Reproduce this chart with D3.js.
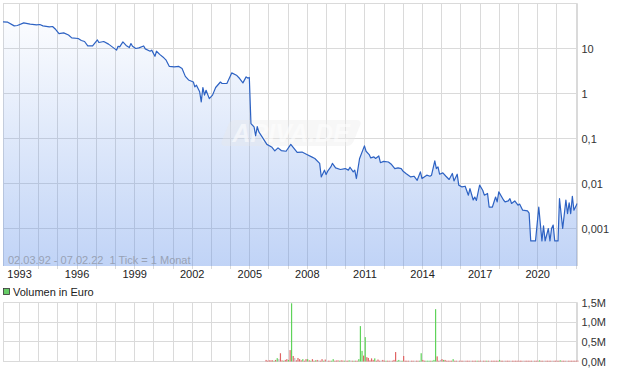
<!DOCTYPE html>
<html>
<head>
<meta charset="utf-8">
<script src="https://cdn.jsdelivr.net/npm/d3@7"></script>
<style>
  body { margin: 0; background: #fff; }
  svg { display: block; font-family: "Liberation Sans", Arial, sans-serif; }
</style>
</head>
<body>
<div id="chart"></div>
<script>
// monthly closes (EUR, log scale)
const price = [
  ["1992-03", 39], ["1992-06", 38.4], ["1992-10", 31.8], ["1992-12", 32.4],
  ["1993-04", 37.1], ["1993-08", 34.7], ["1993-12", 33.4],
  ["1994-02", 34.1], ["1994-04", 31.8], ["1994-08", 30.2], ["1994-10", 30.8], ["1994-12", 26.4],
  ["1995-02", 21.5], ["1995-05", 22.2], ["1995-08", 20.0], ["1995-10", 17.2],
  ["1996-02", 16.7], ["1996-04", 15.1], ["1996-06", 14.3], ["1996-08", 11.4], ["1996-11", 11.4],
  ["1997-02", 15.5], ["1997-03", 13.6], ["1997-06", 14.3], ["1997-09", 12.5],
  ["1998-02", 9.2], ["1998-03", 11.2], ["1998-04", 10.9], ["1998-06", 14.0], ["1998-08", 11.7],
  ["1998-10", 10.5], ["1998-11", 12.9], ["1998-12", 11.2],
  ["1999-02", 10.0], ["1999-04", 10.3], ["1999-07", 11.4], ["1999-08", 9.8], ["1999-11", 8.7], ["1999-12", 9.2],
  ["2000-02", 6.7], ["2000-03", 8.7], ["2000-05", 7.4], ["2000-07", 6.5], ["2000-09", 5.5], ["2000-11", 4.0],
  ["2001-02", 3.9], ["2001-05", 4.0], ["2001-07", 3.6], ["2001-09", 2.4], ["2001-11", 2.0],
  ["2002-02", 1.8], ["2002-03", 1.4], ["2002-04", 1.53], ["2002-06", 1.09], ["2002-07", 0.65],
  ["2002-08", 1.36], ["2002-09", 0.92], ["2002-10", 1.18], ["2002-12", 0.77],
  ["2003-02", 0.92], ["2003-04", 1.36], ["2003-07", 1.8], ["2003-08", 1.67], ["2003-11", 1.67],
  ["2004-02", 2.87], ["2004-05", 2.55], ["2004-07", 2.15], ["2004-09", 1.72], ["2004-11", 2.34], ["2004-12", 2.2],
  ["2005-01", 2.27], ["2005-02", 0.215], ["2005-04", 0.181], ["2005-05", 0.115], ["2005-06", 0.183],
  ["2005-07", 0.14], ["2005-09", 0.109], ["2005-12", 0.074],
  ["2006-03", 0.065], ["2006-05", 0.053], ["2006-07", 0.062], ["2006-09", 0.054], ["2006-12", 0.052],
  ["2007-03", 0.074], ["2007-05", 0.060], ["2007-07", 0.049], ["2007-10", 0.050],
  ["2008-01", 0.044], ["2008-04", 0.039], ["2008-06", 0.036], ["2008-09", 0.028], ["2008-10", 0.014], ["2008-12", 0.0198],
  ["2009-01", 0.0158], ["2009-02", 0.0188], ["2009-04", 0.0234], ["2009-05", 0.028], ["2009-07", 0.0222], ["2009-10", 0.0205],
  ["2010-01", 0.0215], ["2010-03", 0.0198], ["2010-04", 0.023], ["2010-06", 0.0181], ["2010-07", 0.0198],
  ["2010-08", 0.0129], ["2010-10", 0.036],
  ["2011-01", 0.0685], ["2011-02", 0.052], ["2011-04", 0.044], ["2011-05", 0.037], ["2011-07", 0.039],
  ["2011-08", 0.036], ["2011-10", 0.041], ["2011-11", 0.029],
  ["2012-01", 0.031], ["2012-04", 0.030], ["2012-06", 0.0264], ["2012-08", 0.0215], ["2012-10", 0.0222], ["2012-12", 0.0215],
  ["2013-01", 0.019], ["2013-03", 0.0167], ["2013-06", 0.014], ["2013-08", 0.0145], ["2013-10", 0.0118], ["2013-12", 0.0181],
  ["2014-01", 0.0129], ["2014-04", 0.0153], ["2014-06", 0.0145], ["2014-07", 0.0153], ["2014-09", 0.0318],
  ["2014-10", 0.0215], ["2014-11", 0.0234], ["2014-12", 0.0161],
  ["2015-02", 0.0172], ["2015-04", 0.0145], ["2015-06", 0.0123], ["2015-08", 0.0167], ["2015-09", 0.0114],
  ["2015-11", 0.0161], ["2015-12", 0.0092],
  ["2016-02", 0.0084], ["2016-04", 0.0087], ["2016-06", 0.0055], ["2016-07", 0.0077], ["2016-09", 0.0043],
  ["2016-10", 0.0050], ["2016-11", 0.0042],
  ["2017-01", 0.0092], ["2017-03", 0.0071], ["2017-04", 0.0055], ["2017-06", 0.0060], ["2017-07", 0.0030],
  ["2017-09", 0.0030], ["2017-11", 0.0050], ["2017-12", 0.0039],
  ["2018-01", 0.0065], ["2018-04", 0.0043], ["2018-05", 0.0039], ["2018-07", 0.0041], ["2018-08", 0.0046],
  ["2018-09", 0.0036], ["2018-11", 0.0041],
  ["2019-01", 0.0033], ["2019-02", 0.0035], ["2019-04", 0.00255], ["2019-07", 0.00246], ["2019-08", 0.0022],
  ["2019-09", 0.00053], ["2019-12", 0.00053],
  ["2020-02", 0.0030], ["2020-04", 0.00053], ["2020-05", 0.00114], ["2020-06", 0.00053], ["2020-08", 0.001],
  ["2020-09", 0.00053], ["2020-10", 0.001], ["2020-11", 0.00119], ["2020-12", 0.00053],
  ["2021-02", 0.00053], ["2021-03", 0.0046], ["2021-05", 0.001], ["2021-07", 0.0043], ["2021-08", 0.00215],
  ["2021-09", 0.0037], ["2021-10", 0.00215], ["2021-11", 0.0052], ["2021-12", 0.00255],
  ["2022-02", 0.0036]
];

// monthly volume in million EUR; g = up, r = down, n = unchanged
const volume = [
  ["2005-11", 0.04, "r"], ["2005-12", 0.02, "r"],
  ["2006-01", 0.03, "r"], ["2006-02", 0.03, "r"], ["2006-03", 0.03, "r"], ["2006-04", 0.02, "g"],
  ["2006-05", 0.04, "r"], ["2006-06", 0.085, "g"], ["2006-07", 0.06, "n"], ["2006-08", 0.21, "r"],
  ["2006-09", 0.03, "r"], ["2006-10", 0.02, "g"], ["2006-11", 0.04, "r"], ["2006-12", 0.06, "r"],
  ["2007-01", 0.04, "g"], ["2007-02", 0.29, "r"], ["2007-03", 1.48, "g"], ["2007-04", 0.14, "r"],
  ["2007-05", 0.09, "n"], ["2007-06", 0.03, "r"], ["2007-07", 0.09, "r"], ["2007-08", 0.06, "r"],
  ["2007-09", 0.03, "r"], ["2007-10", 0.06, "g"], ["2007-11", 0.02, "r"], ["2007-12", 0.06, "r"],
  ["2008-01", 0.06, "g"], ["2008-02", 0.03, "r"], ["2008-03", 0.02, "g"], ["2008-04", 0.06, "r"],
  ["2008-05", 0.02, "r"], ["2008-06", 0.03, "g"], ["2008-07", 0.04, "r"], ["2008-08", 0.03, "n"],
  ["2008-09", 0.02, "r"], ["2008-10", 0.06, "r"], ["2008-11", 0.02, "g"], ["2008-12", 0.05, "r"],
  ["2009-01", 0.02, "n"], ["2009-02", 0.01, "r"], ["2009-03", 0.02, "r"], ["2009-04", 0.01, "g"],
  ["2009-05", 0.06, "g"], ["2009-06", 0.01, "r"], ["2009-07", 0.025, "r"], ["2009-08", 0.03, "r"],
  ["2009-09", 0.01, "g"], ["2009-10", 0.03, "r"], ["2009-11", 0.025, "r"], ["2009-12", 0.01, "g"],
  ["2010-01", 0.02, "r"], ["2010-02", 0.01, "r"], ["2010-03", 0.03, "g"], ["2010-04", 0.025, "n"],
  ["2010-05", 0.01, "r"], ["2010-06", 0.02, "g"], ["2010-07", 0.01, "r"], ["2010-08", 0.02, "r"],
  ["2010-09", 0.06, "g"], ["2010-10", 0.90, "g"], ["2010-11", 0.27, "g"], ["2010-12", 0.15, "r"],
  ["2011-01", 0.62, "g"], ["2011-02", 0.11, "r"], ["2011-03", 0.09, "r"], ["2011-04", 0.03, "r"],
  ["2011-05", 0.08, "r"], ["2011-06", 0.04, "r"], ["2011-07", 0.08, "g"], ["2011-08", 0.02, "r"],
  ["2011-09", 0.05, "r"], ["2011-10", 0.02, "r"], ["2011-11", 0.025, "n"], ["2011-12", 0.04, "r"],
  ["2012-01", 0.01, "r"], ["2012-02", 0.02, "g"], ["2012-03", 0.01, "r"], ["2012-04", 0.02, "r"],
  ["2012-05", 0.02, "n"], ["2012-06", 0.01, "r"], ["2012-07", 0.04, "r"], ["2012-08", 0.24, "r"],
  ["2012-09", 0.01, "g"], ["2012-10", 0.04, "g"], ["2012-11", 0.02, "n"], ["2012-12", 0.02, "g"],
  ["2013-01", 0.14, "r"], ["2013-02", 0.02, "r"], ["2013-03", 0.02, "r"], ["2013-04", 0.01, "r"],
  ["2013-05", 0.01, "n"], ["2013-06", 0.01, "r"], ["2013-07", 0.01, "r"], ["2013-08", 0.01, "n"],
  ["2013-09", 0.01, "r"], ["2013-10", 0.02, "r"], ["2013-11", 0.01, "g"], ["2013-12", 0.21, "g"],
  ["2014-01", 0.04, "r"], ["2014-02", 0.01, "r"], ["2014-03", 0.02, "g"], ["2014-04", 0.02, "g"],
  ["2014-05", 0.01, "g"], ["2014-06", 0.02, "r"], ["2014-07", 0.01, "g"], ["2014-08", 0.04, "g"],
  ["2014-09", 1.33, "g"], ["2014-10", 0.13, "r"], ["2014-11", 0.02, "r"], ["2014-12", 0.04, "n"],
  ["2015-01", 0.06, "r"], ["2015-02", 0.04, "g"], ["2015-03", 0.04, "r"], ["2015-04", 0.01, "r"],
  ["2015-05", 0.02, "r"], ["2015-06", 0.02, "r"], ["2015-07", 0.01, "r"], ["2015-08", 0.06, "g"],
  ["2015-09", 0.01, "r"], ["2015-10", 0.01, "r"], ["2015-11", 0.01, "n"], ["2015-12", 0.01, "r"],
  ["2016-01", 0.01, "r"], ["2016-02", 0.01, "r"], ["2016-03", 0.01, "n"], ["2016-04", 0.01, "r"],
  ["2016-05", 0.01, "r"], ["2016-06", 0.01, "r"], ["2016-07", 0.01, "n"], ["2016-08", 0.01, "r"],
  ["2016-09", 0.01, "r"], ["2016-10", 0.01, "r"], ["2016-11", 0.01, "g"], ["2016-12", 0.01, "r"],
  ["2017-01", 0.01, "r"], ["2017-02", 0.01, "n"], ["2017-03", 0.01, "r"], ["2017-04", 0.01, "r"],
  ["2017-05", 0.01, "g"], ["2017-06", 0.01, "r"], ["2017-07", 0.01, "n"], ["2017-08", 0.01, "r"],
  ["2017-09", 0.01, "r"], ["2017-10", 0.01, "r"], ["2017-11", 0.01, "r"], ["2017-12", 0.01, "r"],
  ["2018-01", 0.04, "g"], ["2018-02", 0.01, "r"], ["2018-03", 0.01, "r"], ["2018-04", 0.01, "n"],
  ["2018-05", 0.01, "r"], ["2018-06", 0.01, "r"], ["2018-07", 0.01, "r"], ["2018-08", 0.01, "n"],
  ["2018-09", 0.01, "r"], ["2018-10", 0.01, "r"], ["2018-11", 0.01, "r"], ["2018-12", 0.01, "r"],
  ["2019-01", 0.01, "r"], ["2019-02", 0.01, "r"], ["2019-03", 0.01, "r"], ["2019-04", 0.01, "n"],
  ["2019-05", 0.01, "r"], ["2019-06", 0.01, "r"], ["2019-07", 0.01, "r"], ["2019-08", 0.01, "r"],
  ["2019-09", 0.01, "r"], ["2019-10", 0.01, "n"], ["2019-11", 0.01, "r"], ["2019-12", 0.01, "r"],
  ["2020-01", 0.01, "r"], ["2020-02", 0.03, "g"], ["2020-03", 0.01, "r"], ["2020-04", 0.01, "r"],
  ["2020-05", 0.01, "n"], ["2020-06", 0.01, "r"], ["2020-07", 0.01, "r"], ["2020-08", 0.01, "r"],
  ["2020-09", 0.01, "r"], ["2020-10", 0.01, "n"], ["2020-11", 0.01, "r"], ["2020-12", 0.01, "r"],
  ["2021-01", 0.01, "r"], ["2021-02", 0.01, "r"], ["2021-03", 0.03, "g"], ["2021-04", 0.01, "r"],
  ["2021-05", 0.01, "r"], ["2021-06", 0.01, "r"], ["2021-07", 0.01, "n"], ["2021-08", 0.01, "r"],
  ["2021-09", 0.01, "r"], ["2021-10", 0.01, "r"], ["2021-11", 0.01, "r"], ["2021-12", 0.01, "r"],
  ["2022-01", 0.01, "r"], ["2022-02", 0.01, "r"]
];

const yearTicks = [1993, 1996, 1999, 2002, 2005, 2008, 2011, 2014, 2017, 2020];
const priceTicks = [10, 1, 0.1, 0.01, 0.001];
const volTicks = [0, 0.5, 1.0, 1.5];
const rangeText = "02.03.92 - 07.02.22  1 Tick = 1 Monat";
const volLabel = "Volumen in Euro";

const width = 620, height = 371;
const parse = d3.timeParse("%Y-%m");
const fmtComma = v => String(v).replace(".", ",");
const fmtVol = v => d3.format(".1f")(v).replace(".", ",") + "M";

const svg = d3.select("#chart").append("svg")
  .attr("width", width)
  .attr("height", height);

const pLeft = 3, pRight = 577.5;
const pTop = 3.5, pBottom = 266;
const vTop = 302.5, vBottom = 361.5;

const x = d3.scaleTime()
  .domain([new Date(1992, 2, 2), new Date(2022, 1, 7)])
  .range([pLeft, pRight]);

// 45px per decade, 100 at the top edge
const y = d3.scaleLog()
  .domain([100, Math.pow(10, 2 - (pBottom - pTop) / 45)])
  .range([pTop, pBottom]);

const yv = d3.scaleLinear().domain([0, 1.5]).range([vBottom, vTop]);

const allYears = d3.range(1993, 2023).map(yr => new Date(yr, 0, 1));
const crisp = v => Math.round(v) + 0.5;

// ---------- price panel ----------
const defs = svg.append("defs");
const grad = defs.append("linearGradient")
  .attr("id", "fillGrad")
  .attr("gradientUnits", "userSpaceOnUse")
  .attr("x1", 0).attr("y1", pTop).attr("x2", 0).attr("y2", pBottom);
grad.append("stop").attr("offset", 0).attr("stop-color", "#5a8ce8").attr("stop-opacity", 0.0);
grad.append("stop").attr("offset", 1).attr("stop-color", "#5a8ce8").attr("stop-opacity", 0.38);

defs.append("clipPath").attr("id", "clipMain")
  .append("rect").attr("x", pLeft).attr("y", pTop).attr("width", pRight - pLeft).attr("height", pBottom - pTop);

const grid = svg.append("g").attr("stroke", "#dadada").attr("stroke-width", 1).attr("fill", "none");

grid.selectAll("line.vx")
  .data(allYears)
  .join("line")
  .attr("class", "vx")
  .attr("x1", d => crisp(x(d))).attr("x2", d => crisp(x(d)))
  .attr("y1", pTop).attr("y2", pBottom + 3);

grid.selectAll("line.hy")
  .data([100].concat(priceTicks))
  .join("line")
  .attr("class", "hy")
  .attr("x1", pLeft).attr("x2", pRight)
  .attr("y1", d => crisp(y(d) - 0.5)).attr("y2", d => crisp(y(d) - 0.5));

grid.append("line").attr("x1", pLeft + 0.5).attr("x2", pLeft + 0.5).attr("y1", pTop).attr("y2", pBottom);
grid.append("line").attr("x1", pRight).attr("x2", pRight).attr("y1", pTop).attr("y2", pBottom);

const pts = price.map(d => ({ date: parse(d[0]), value: d[1] }));

const area = d3.area()
  .x(d => x(d.date))
  .y0(pBottom)
  .y1(d => y(d.value));

const line = d3.line()
  .x(d => x(d.date))
  .y(d => y(d.value));

const main = svg.append("g").attr("clip-path", "url(#clipMain)");

main.append("path")
  .datum(pts)
  .attr("d", area)
  .attr("fill", "url(#fillGrad)");

// watermark
const wm = main.append("g").attr("transform", "translate(291,133)");
wm.append("rect")
  .attr("x", -66).attr("y", -13).attr("width", 132).attr("height", 26).attr("rx", 5)
  .attr("transform", "skewX(-22)")
  .attr("fill", "#e9e9e9").attr("opacity", 0.35);
wm.append("text")
  .attr("text-anchor", "middle").attr("dy", 9)
  .attr("font-size", 25).attr("font-weight", "bold").attr("font-style", "italic")
  .attr("fill", "#ffffff").attr("opacity", 0.55)
  .text("ARIVA.DE");

main.append("path")
  .datum(pts)
  .attr("d", line)
  .attr("fill", "none")
  .attr("stroke", "#2d62c3")
  .attr("stroke-width", 1.2)
  .attr("stroke-linejoin", "round");

svg.append("text")
  .attr("x", 8).attr("y", 264)
  .attr("font-size", 11)
  .attr("fill", "#98a2b5")
  .style("white-space", "pre")
  .text(rangeText);

const yAxis = svg.append("g")
  .attr("transform", `translate(${pRight + 1},0)`)
  .call(d3.axisRight(y).tickValues(priceTicks).tickSize(0).tickPadding(3).tickFormat(fmtComma));
yAxis.select(".domain").remove();
yAxis.selectAll("text").attr("font-size", 11).attr("fill", "#333");
yAxis.attr("font-family", null);

const xAxis = svg.append("g")
  .attr("transform", `translate(0,${pBottom})`)
  .call(d3.axisBottom(x).tickValues(yearTicks.map(yr => new Date(yr, 0, 1))).tickSize(0).tickPadding(4)
    .tickFormat(d3.timeFormat("%Y")));
xAxis.select(".domain").remove();
xAxis.selectAll("text").attr("font-size", 11).attr("fill", "#222");
xAxis.attr("font-family", null);

// ---------- volume panel ----------
svg.append("rect")
  .attr("x", 3.5).attr("y", 288.5).attr("width", 6).attr("height", 6)
  .attr("fill", "#66cc66").attr("stroke", "#333").attr("stroke-width", 0.8);
svg.append("text")
  .attr("x", 13).attr("y", 296)
  .attr("font-size", 11).attr("fill", "#222")
  .text(volLabel);

const vgrid = svg.append("g").attr("stroke", "#dadada").attr("stroke-width", 1);
vgrid.selectAll("line.vx")
  .data(allYears)
  .join("line")
  .attr("class", "vx")
  .attr("x1", d => crisp(x(d))).attr("x2", d => crisp(x(d)))
  .attr("y1", vTop).attr("y2", vBottom);
vgrid.selectAll("line.hy")
  .data(volTicks)
  .join("line")
  .attr("class", "hy")
  .attr("x1", pLeft).attr("x2", pRight)
  .attr("y1", d => crisp(yv(d) - 0.5)).attr("y2", d => crisp(yv(d) - 0.5));
vgrid.append("line").attr("x1", pLeft + 0.5).attr("x2", pLeft + 0.5).attr("y1", vTop).attr("y2", vBottom);
vgrid.append("line").attr("x1", pRight).attr("x2", pRight).attr("y1", vTop).attr("y2", vBottom);

const barColor = { g: "#5fd35a", r: "#e06464", n: "#bdbdbd" };

svg.append("g")
  .selectAll("rect")
  .data(volume)
  .join("rect")
  .attr("x", d => x(parse(d[0])) + 0.2)
  .attr("width", 1.2)
  .attr("y", d => Math.min(yv(d[1]), yv(0) - 0.8))
  .attr("height", d => Math.max(yv(0) - yv(d[1]), 0.8))
  .attr("fill", d => barColor[d[2]]);

const vAxis = svg.append("g")
  .attr("transform", `translate(${pRight + 1},0)`)
  .call(d3.axisRight(yv).tickValues(volTicks).tickSize(0).tickPadding(3).tickFormat(fmtVol));
vAxis.select(".domain").remove();
vAxis.selectAll("text").attr("font-size", 11).attr("fill", "#333");
vAxis.attr("font-family", null);
</script>
</body>
</html>
